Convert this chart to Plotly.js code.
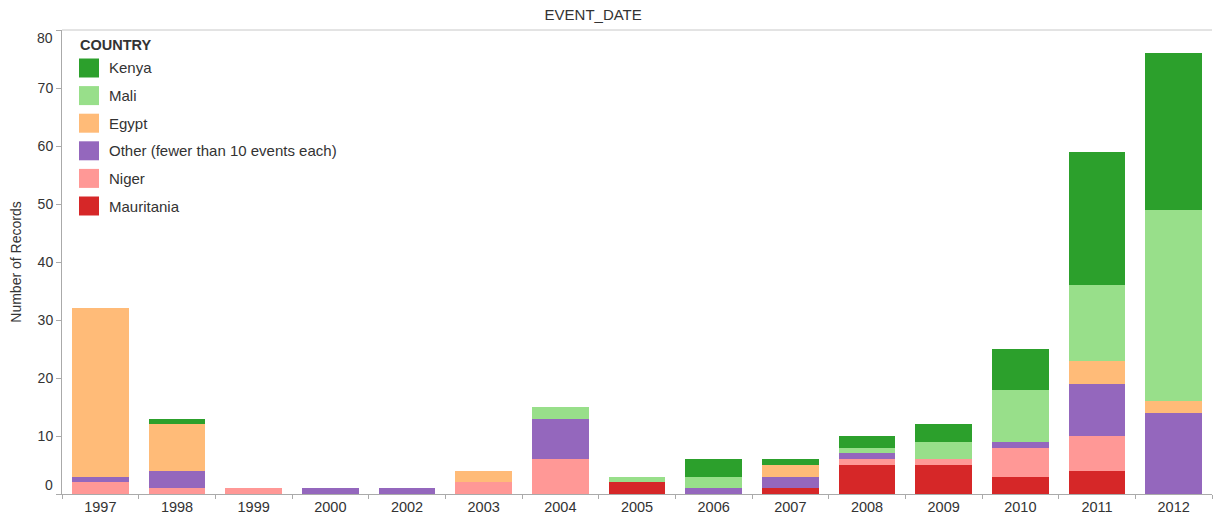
<!DOCTYPE html>
<html>
<head>
<meta charset="utf-8">
<script src="https://cdn.plot.ly/plotly-3.0.1.min.js"></script>
<style>
html,body{margin:0;padding:0;background:#fff;}
#chart{width:1213px;height:517px;}
</style>
</head>
<body>
<div id="chart"></div>
<script>
// Categories (EVENT_DATE)
var years = ['1997','1998','1999','2000','2002','2003','2004','2005','2006','2007','2008','2009','2010','2011','2012'];

// Series values (Number of Records), stacked bottom to top
var mauritania = [0, 0, 0, 0, 0, 0, 0, 2, 0, 1, 5, 5, 3, 4, 0];
var niger      = [2, 1, 1, 0, 0, 2, 6, 0, 0, 0, 1, 1, 5, 6, 0];
var other      = [1, 3, 0, 1, 1, 0, 7, 0, 1, 2, 1, 0, 1, 9, 14];
var egypt      = [29, 8, 0, 0, 0, 2, 0, 0, 0, 2, 0, 0, 0, 4, 2];
var mali       = [0, 0, 0, 0, 0, 0, 2, 1, 2, 0, 1, 3, 9, 13, 33];
var kenya      = [0, 1, 0, 0, 0, 0, 0, 0, 3, 1, 2, 3, 7, 23, 27];

var seriesNames = ['Mauritania', 'Niger', 'Other (fewer than 10 events each)', 'Egypt', 'Mali', 'Kenya'];
var seriesValues = [mauritania, niger, other, egypt, mali, kenya];
var seriesColors = ['#d62728', '#ff9896', '#9467bd', '#ffbb78', '#98df8a', '#2ca02c'];

var yTicks = [0, 10, 20, 30, 40, 50, 60, 70, 80];

var FONT = 'Liberation Sans, Arial, sans-serif';
var TXT = '#333';

var traces = seriesNames.map(function (name, i) {
  return {
    type: 'bar',
    name: name,
    x: years,
    y: seriesValues[i],
    marker: {color: seriesColors[i], line: {width: 0}},
    hoverinfo: 'x+y+name'
  };
});

var shapes = [
  {type: 'line', xref: 'paper', yref: 'paper', x0: 0, x1: 1, y0: 1, y1: 1,
   line: {color: '#c8c8c8', width: 1}}
];
var annotations = [
  {xref: 'paper', yref: 'paper', x: 0.0135, y: 0.968, xanchor: 'left', yanchor: 'middle',
   text: '<b>COUNTRY</b>', showarrow: false, font: {family: FONT, size: 14.5, color: TXT}}
];

// End tick labels nudged inside the axis span, as in the original
var firstTick = yTicks[0], lastTick = yTicks[yTicks.length - 1];
annotations.push({xref: 'paper', yref: 'y', x: 0, y: firstTick, xanchor: 'right', yanchor: 'middle',
  xshift: -7, yshift: 9, text: String(firstTick), showarrow: false, font: {family: FONT, size: 14, color: TXT}});
annotations.push({xref: 'paper', yref: 'y', x: 0, y: lastTick, xanchor: 'right', yanchor: 'middle',
  xshift: -7, yshift: -8, text: String(lastTick), showarrow: false, font: {family: FONT, size: 14, color: TXT}});

// Custom legend (top-left, inside plot), listed top to bottom: Kenya ... Mauritania
var legendOrder = seriesNames.slice().reverse();
var legendColors = seriesColors.slice().reverse();
var plotH = 464;
legendOrder.forEach(function (name, k) {
  var cy = 68 + k * 27.6;
  var yc = 1 - (cy - 30) / plotH;
  var half = 9.5 / plotH;
  shapes.push({type: 'rect', xref: 'paper', yref: 'paper',
    x0: (79 - 62) / 1150, x1: (99 - 62) / 1150, y0: yc - half, y1: yc + half,
    fillcolor: legendColors[k], line: {width: 0}});
  annotations.push({xref: 'paper', yref: 'paper', x: (107 - 62) / 1150, y: yc,
    xanchor: 'left', yanchor: 'middle', text: name, showarrow: false,
    font: {family: FONT, size: 15, color: TXT}});
});

var layout = {
  width: 1213, height: 517,
  margin: {l: 62, r: 1, t: 30, b: 23, pad: 0},
  paper_bgcolor: '#fff', plot_bgcolor: '#fff',
  barmode: 'stack',
  bargap: 0.26,
  showlegend: false,
  font: {family: FONT, size: 14, color: TXT},
  title: {text: 'EVENT_DATE', x: 0.489, xanchor: 'center', y: 0.971, yanchor: 'middle',
          font: {family: FONT, size: 15, color: TXT}},
  xaxis: {
    type: 'category',
    tickson: 'boundaries',
    ticks: 'outside', ticklen: 4, tickcolor: '#aaa', tickwidth: 1,
    showline: true, linecolor: '#aaa', linewidth: 1,
    showgrid: false, zeroline: false,
    tickfont: {family: FONT, size: 14.5, color: TXT},
    automargin: false
  },
  yaxis: {
    range: [0, 80],
    tickvals: yTicks,
    ticktext: yTicks.map(function (v) { return (v === firstTick || v === lastTick) ? '' : String(v); }),
    ticks: 'outside', ticklen: 5, tickcolor: '#aaa', tickwidth: 1,
    showline: true, linecolor: '#aaa', linewidth: 1,
    showgrid: false, zeroline: false,
    tickfont: {family: FONT, size: 14, color: TXT},
    title: {text: 'Number of Records', standoff: 12, font: {family: FONT, size: 14, color: TXT}},
    automargin: false
  },
  shapes: shapes,
  annotations: annotations
};

Plotly.newPlot('chart', traces, layout, {displayModeBar: false});
</script>
</body>
</html>
